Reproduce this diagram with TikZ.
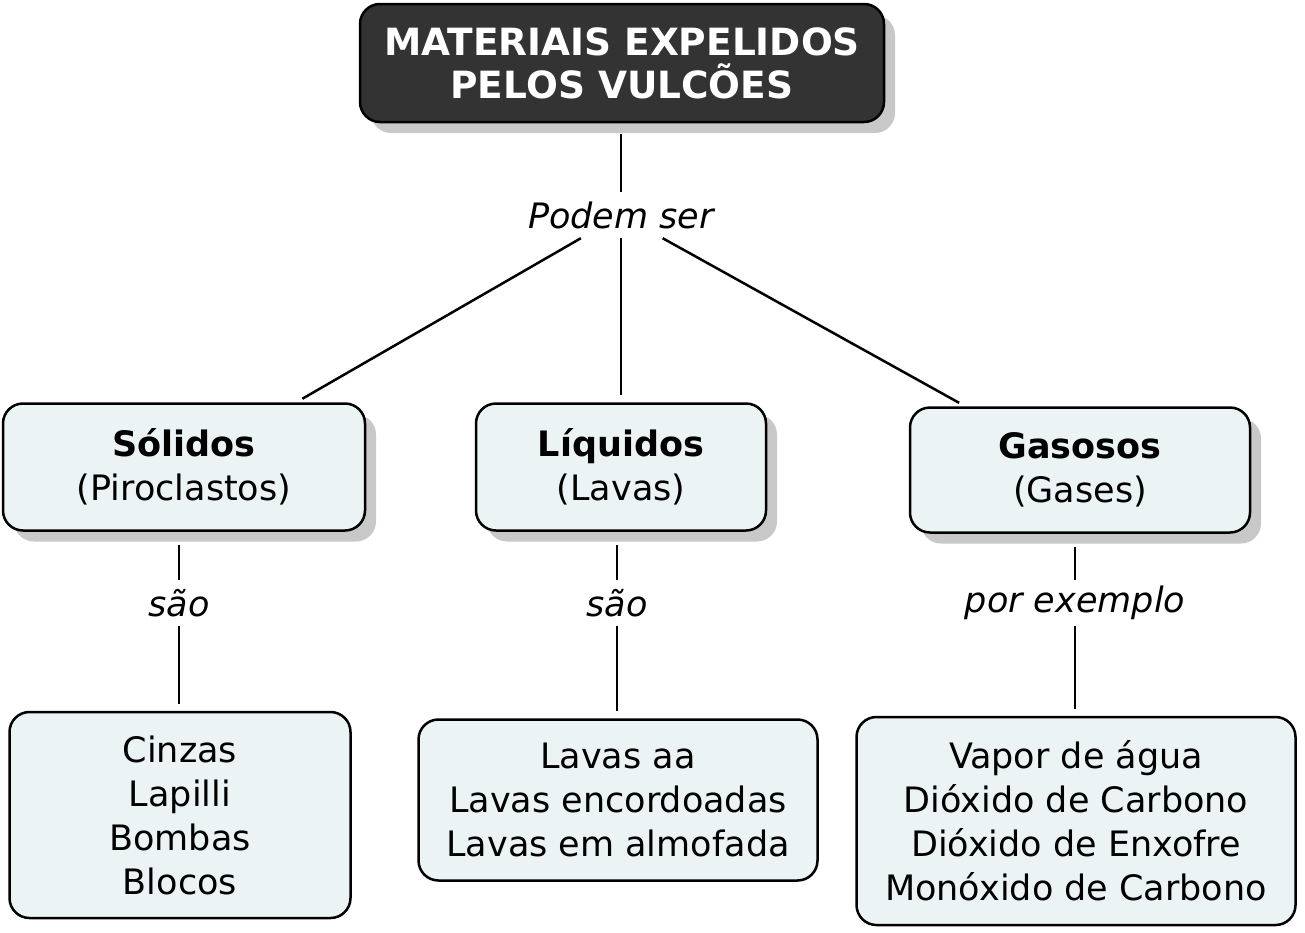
\documentclass[tikz,border=0pt]{standalone}
\usepackage{fontspec}
\setmainfont{DejaVu Sans}
\usetikzlibrary{shadows}
\definecolor{BoxFill}{HTML}{ECF3F5}
\definecolor{TitleFill}{HTML}{333333}
\definecolor{ShadowGray}{HTML}{C8C8C8}

\begin{document}
\begin{tikzpicture}[x=1pt, y=-1pt,
    every node/.style={font=\fontsize{35}{44}\selectfont},
    concept/.style={draw, line width=2.5pt, rounded corners=20pt, fill=BoxFill, align=center, inner sep=0pt},
    shadowed/.style={drop shadow={shadow xshift=11pt, shadow yshift=-11pt, fill=ShadowGray, opacity=1}},
    linkword/.style={font=\fontsize{35}{44}\selectfont\itshape, minimum height=46pt, inner sep=0pt},
    edge/.style={line width=2.5pt}]
  \useasboundingbox (0,0) rectangle (1305,932);

  \node[concept, shadowed, fill=TitleFill, text=white, font=\fontsize{37.5}{43}\selectfont\bfseries,
        minimum width=524pt, minimum height=118pt] (title) at (622,63) {MATERIAIS EXPELIDOS\\PELOS VULCÕES};
  \node[linkword] (podem) at (621,215) {Podem ser};

  \node[concept, shadowed, minimum width=362pt, minimum height=127pt] (solidos)  at (184,467)  {\textbf{Sólidos}\\(Piroclastos)};
  \node[concept, shadowed, minimum width=290pt, minimum height=127pt] (liquidos) at (621,467)  {\textbf{Líquidos}\\(Lavas)};
  \node[concept, shadowed, minimum width=340pt, minimum height=125pt] (gasosos)  at (1080,470) {\textbf{Gasosos}\\(Gases)};

  \node[linkword] (saoS) at (179,603)  {são};
  \node[linkword] (saoL) at (617,603)  {são};
  \node[linkword] (porex) at (1075,603) {por exemplo};

  \node[concept, minimum width=341pt, minimum height=206pt] (tiposS) at (180,815)  {Cinzas\\Lapilli\\Bombas\\Blocos};
  \node[concept, minimum width=399pt, minimum height=161pt] (tiposL) at (618,800)  {Lavas aa\\Lavas encordoadas\\Lavas em almofada};
  \node[concept, minimum width=439pt, minimum height=208pt] (tiposG) at (1076,821) {Vapor de água\\Dióxido de Carbono\\Dióxido de Enxofre\\Monóxido de Carbono};

  \draw[edge, shorten <=11pt] (title.south -| podem) -- (podem);
  \draw[edge, shorten >=7pt] (podem) -- (solidos);
  \draw[edge, shorten >=7pt] (podem) -- (liquidos.north);
  \draw[edge, shorten >=7pt] (podem) -- (gasosos);
  \foreach \a/\l/\b in {solidos/saoS/tiposS, liquidos/saoL/tiposL, gasosos/porex/tiposG} {
    \draw[edge, shorten <=13pt] (\a.south -| \l) -- (\l);
    \draw[edge, shorten >=7pt] (\l) -- (\b.north -| \l);
  }
\end{tikzpicture}
\end{document}
